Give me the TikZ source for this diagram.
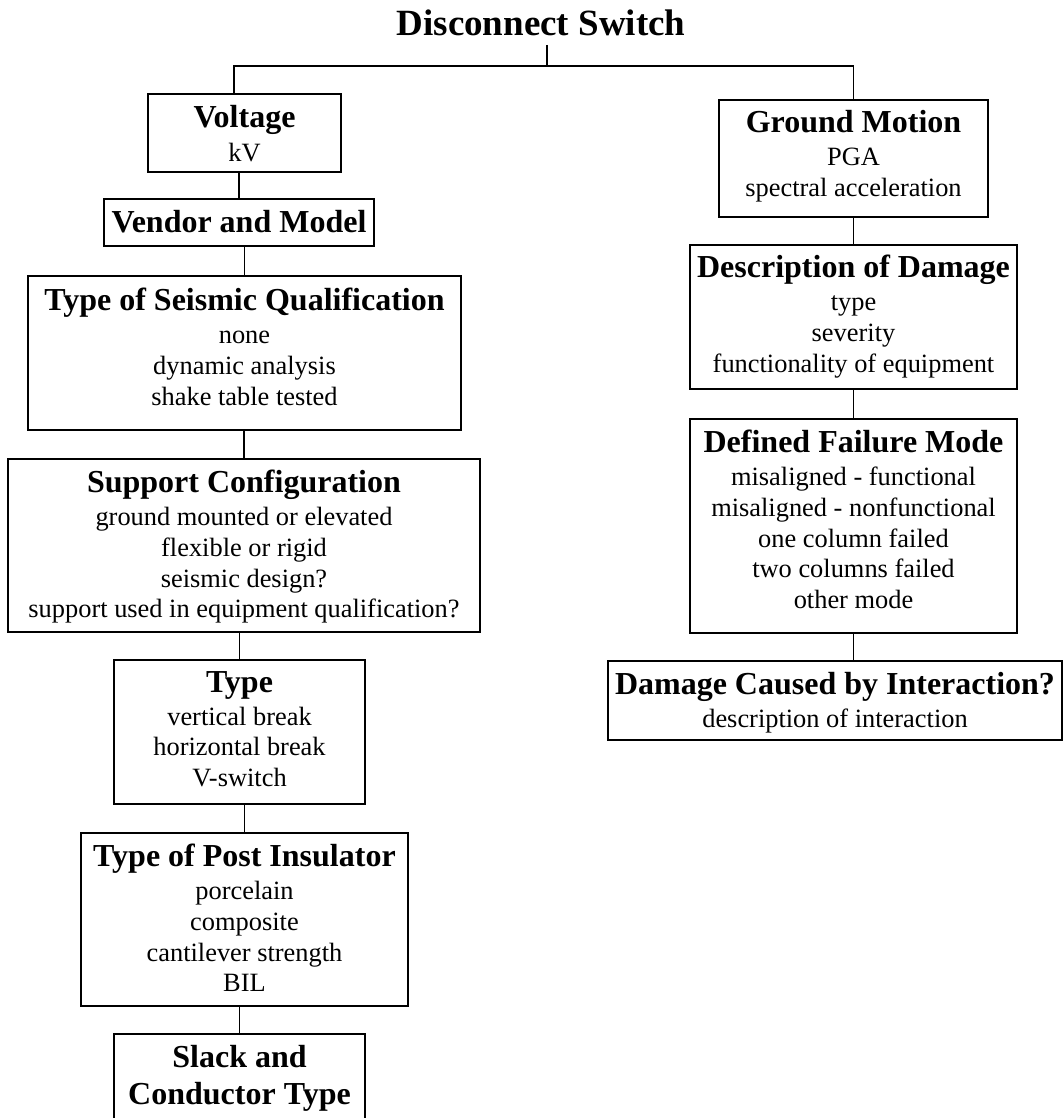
\documentclass[tikz,border=0pt]{standalone}
\usepackage{fontspec}
\setmainfont{Liberation Serif}
\newcommand{\hd}{\fontsize{32}{36.8}\selectfont\bfseries}
\begin{document}
\begin{tikzpicture}[x=1pt,y=-1pt,
  panel/.style={draw, line width=1.8pt, inner sep=0pt},
  txt/.style={anchor=north, align=center, inner sep=0pt, font=\fontsize{26.4}{30.6}\selectfont},
  link/.style={line width=1.5pt}]
\clip (0,0) rectangle (1064,1118);
\fill[white] (0,0) rectangle (1064,1118);

\node[anchor=base, inner sep=0pt, font=\fontsize{37}{42}\selectfont\bfseries] (title) at (541,36) {Disconnect Switch};

% left column
\node[panel, minimum width=193pt, minimum height=78pt] (voltage) at (244.5,133) {};
\node[txt] (voltage-t) at ([yshift=-12pt]voltage.north) {{\hd Voltage}\\[3pt]kV};

\node[panel, minimum width=270pt, minimum height=47pt] (vendor) at (239,222.5) {};
\node[txt] (vendor-t) at ([yshift=-12pt]vendor.north) {{\hd Vendor and Model}};

\node[panel, minimum width=433pt, minimum height=154pt] (tsq) at (244.5,353) {};
\node[txt] (tsq-t) at ([yshift=-13pt]tsq.north) {{\hd Type of Seismic Qualification}\\[2.5pt]none\\dynamic analysis\\shake table tested};

\node[panel, minimum width=472pt, minimum height=173pt] (support) at (244,545.5) {};
\node[txt] (support-t) at ([yshift=-12pt]support.north) {{\hd Support Configuration}\\[2.5pt]ground mounted or elevated\\flexible or rigid\\seismic design?\\support used in equipment qualification?};

\node[panel, minimum width=251pt, minimum height=144pt] (type) at (239.5,732) {};
\node[txt] (type-t) at ([yshift=-12pt]type.north) {{\hd Type}\\[2.5pt]vertical break\\horizontal break\\V-switch};

\node[panel, minimum width=327pt, minimum height=173pt] (post) at (244.5,919.5) {};
\node[txt] (post-t) at ([yshift=-12pt]post.north) {{\hd Type of Post Insulator}\\[2.5pt]porcelain\\composite\\cantilever strength\\BIL};

\node[panel, minimum width=251pt, minimum height=90pt] (slack) at (239.5,1079) {};
\node[txt, font=\fontsize{32}{37}\selectfont\bfseries] (slack-t) at ([yshift=-12pt]slack.north) {Slack and\\Conductor Type};

% right column
\node[panel, minimum width=269pt, minimum height=117pt] (gm) at (853.5,158.5) {};
\node[txt] (gm-t) at ([yshift=-11pt]gm.north) {{\hd Ground Motion}\\[2.5pt]PGA\\spectral acceleration};

\node[panel, minimum width=327pt, minimum height=144pt] (desc) at (853.5,317) {};
\node[txt] (desc-t) at ([yshift=-11pt]desc.north) {{\hd Description of Damage}\\[2.5pt]type\\severity\\functionality of equipment};

\node[panel, minimum width=327pt, minimum height=214pt] (dfm) at (853.5,526) {};
\node[txt] (dfm-t) at ([yshift=-12pt]dfm.north) {{\hd Defined Failure Mode}\\[2.5pt]misaligned - functional\\misaligned - nonfunctional\\one column failed\\two columns failed\\other mode};

\node[panel, minimum width=454pt, minimum height=79pt] (damage) at (835,700.5) {};
\node[txt] (damage-t) at ([yshift=-12pt]damage.north) {{\hd Damage Caused by Interaction?}\\[2.5pt]description of interaction};

% connectors
\coordinate (stem) at (547,45);
\coordinate (jl) at (234,66);
\coordinate (jr) at (853.5,66);
\draw[link] (stem) -- (stem |- jl);
\draw[link] (jl |- voltage.north) -- (jl) -- (jr) -- (gm.north);

\draw[link] (vendor.north) -- (vendor.north |- voltage.south);
\draw[link] (tsq.north) -- (tsq.north |- vendor.south);
\draw[link] (support.north) -- (support.north |- tsq.south);
\draw[link] (type.north) -- (type.north |- support.south);
\draw[link] (post.north) -- (post.north |- type.south);
\draw[link] (slack.north) -- (slack.north |- post.south);

\draw[link] (desc.north) -- (desc.north |- gm.south);
\draw[link] (dfm.north) -- (dfm.north |- desc.south);
\draw[link] (dfm.south) -- (dfm.south |- damage.north);
\end{tikzpicture}
\end{document}
